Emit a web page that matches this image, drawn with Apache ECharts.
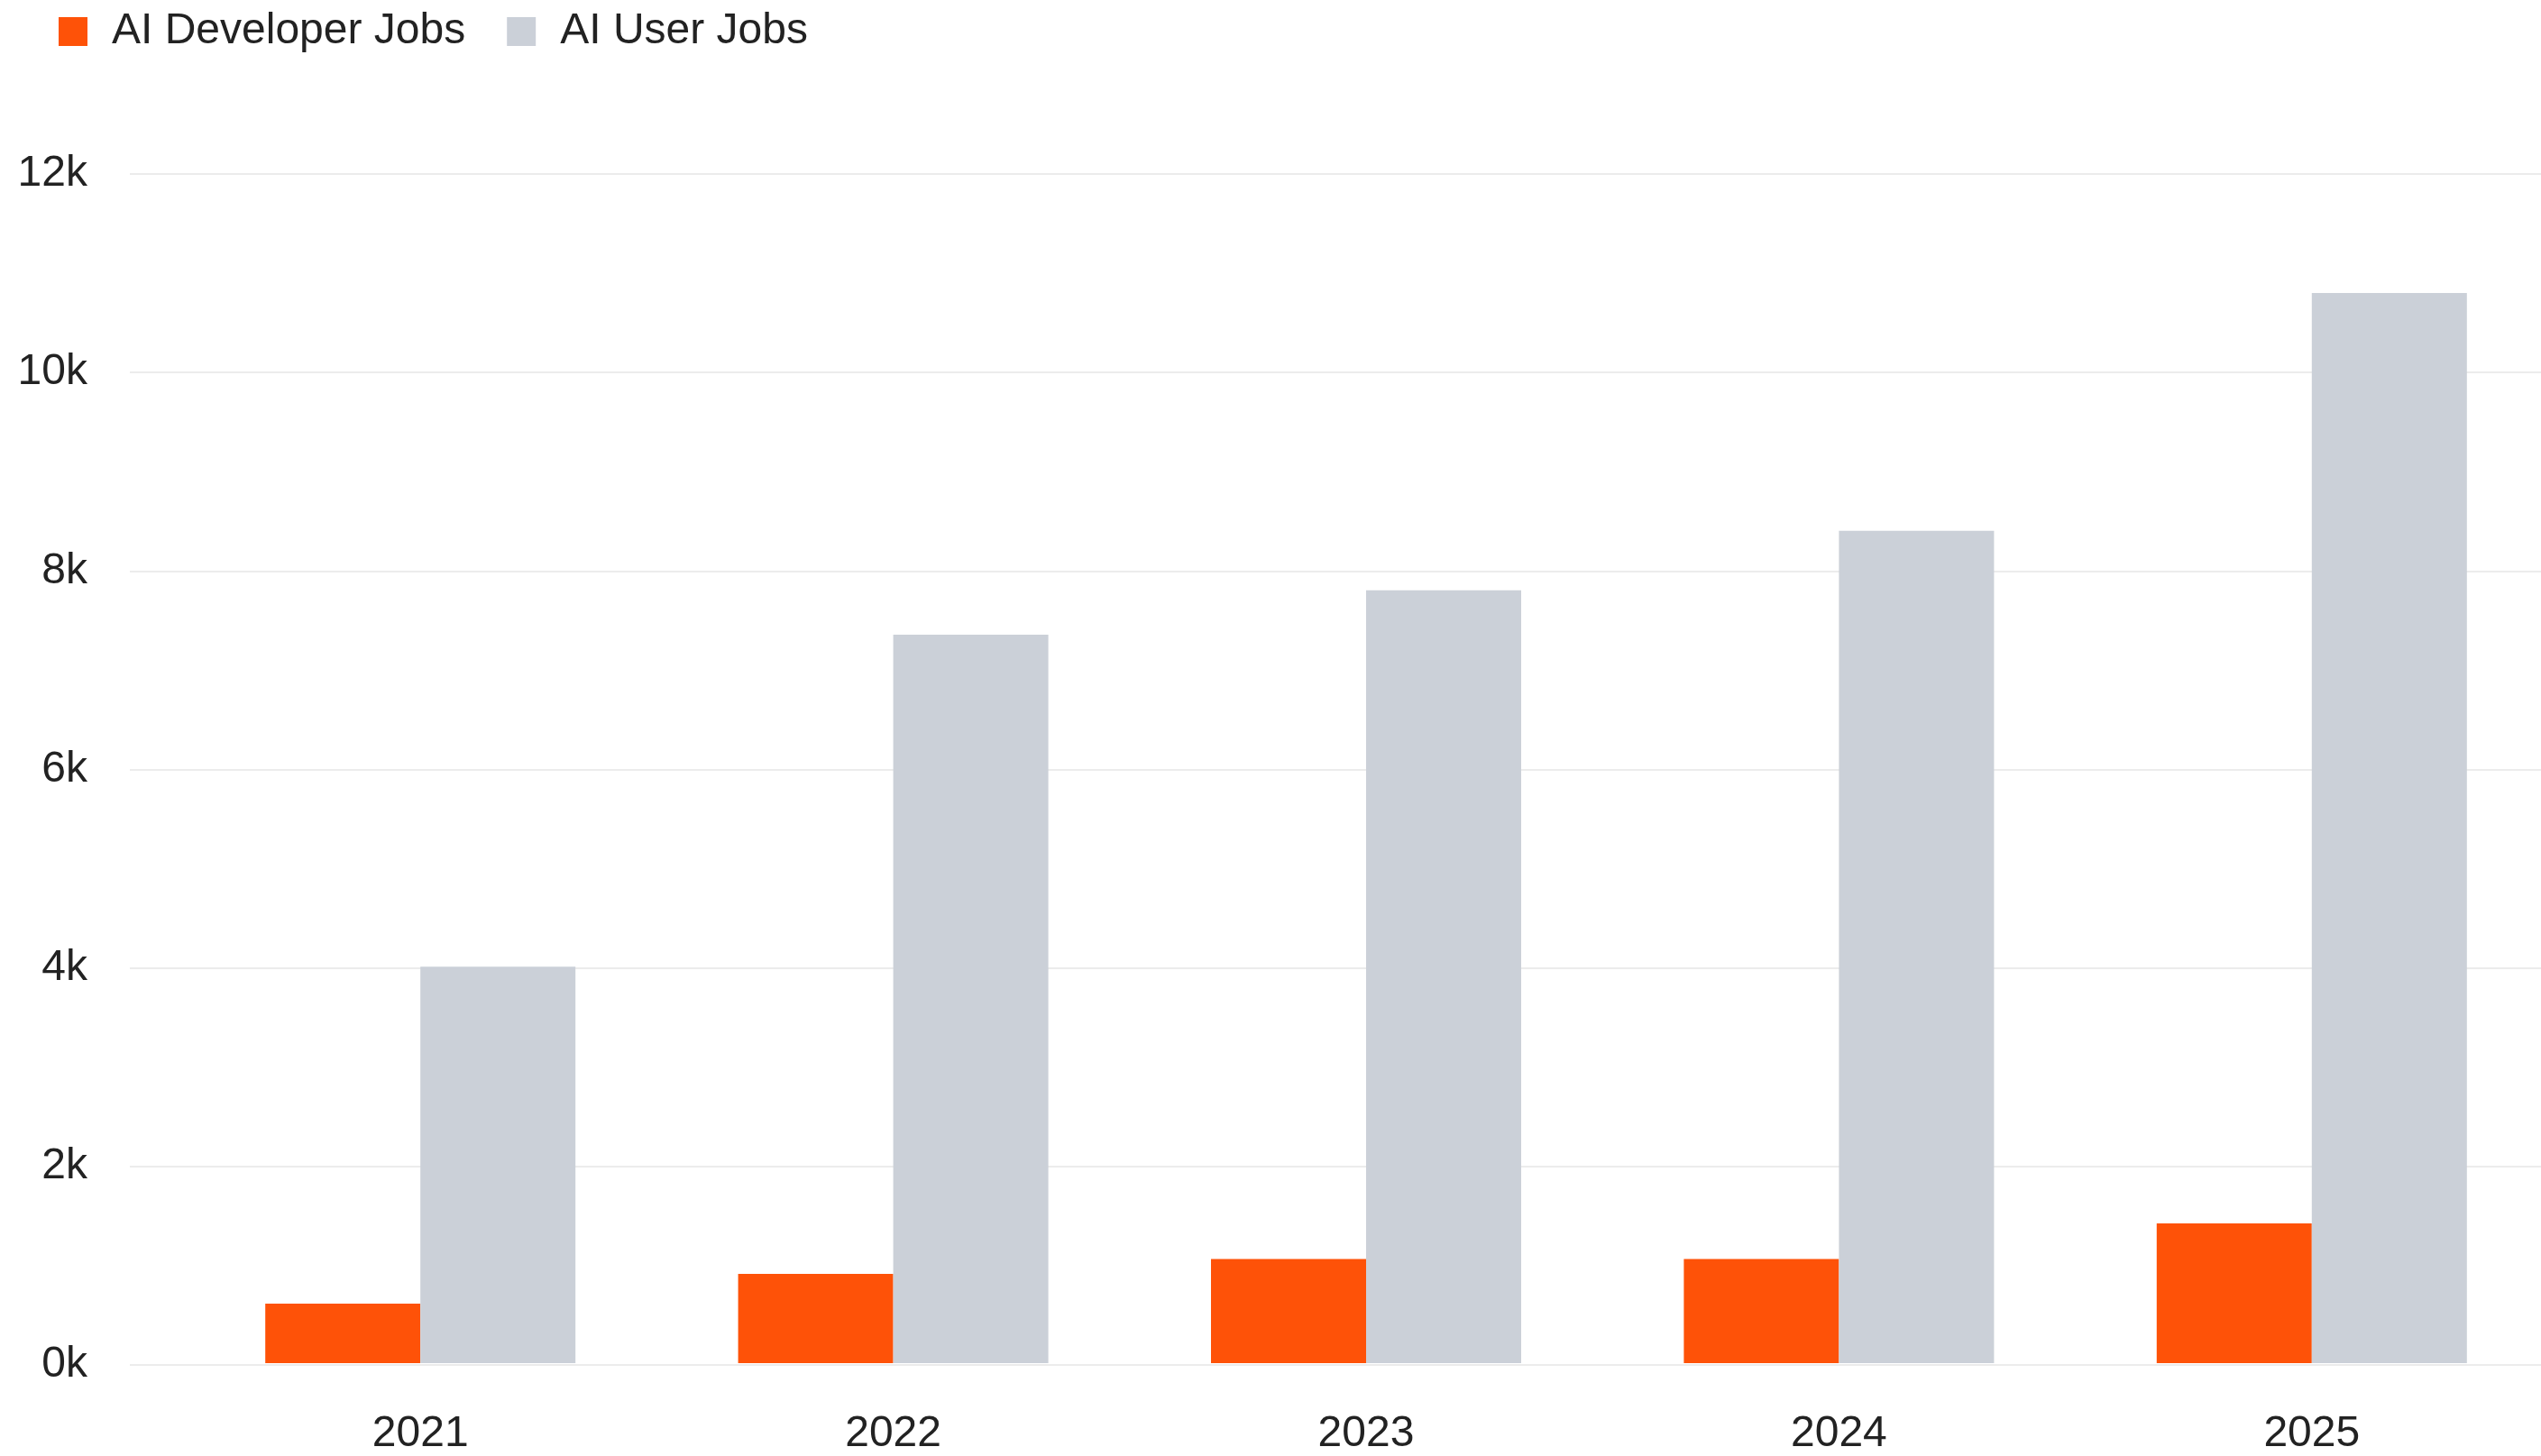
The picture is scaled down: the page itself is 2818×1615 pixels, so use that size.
<!DOCTYPE html>
<html>
<head>
<meta charset="utf-8">
<style>
  html, body { margin: 0; padding: 0; background: #ffffff; overflow: hidden; }
  #chart { width: 2840px; height: 1615px; }
</style>
<script src="https://cdn.jsdelivr.net/npm/echarts@6/dist/echarts.min.js"></script>
</head>
<body>
<div id="chart"></div>
<script>
const years = ['2021', '2022', '2023', '2024', '2025'];
const developerJobs = [600, 900, 1050, 1050, 1410];
const userJobs = [4000, 7350, 7800, 8400, 10800];
const seriesNames = ['AI Developer Jobs', 'AI User Jobs'];
const yMin = 0, yMax = 12000, yStep = 2000;

const FONT = '"Liberation Sans", Arial, Helvetica, sans-serif';
const chart = echarts.init(document.getElementById('chart'), null, { renderer: 'canvas' });

chart.setOption({
  animation: false,
  backgroundColor: '#ffffff',
  textStyle: { fontFamily: FONT },
  legend: {
    left: 60,
    top: 6,
    itemWidth: 32,
    itemHeight: 32,
    itemGap: 46,
    icon: 'rect',
    data: seriesNames,
    textStyle: { fontSize: 48, color: '#222222', fontFamily: FONT, padding: [0, 0, 0, 22] }
  },
  grid: [
    { left: 144, right: 0, top: 193, bottom: 101, containLabel: false },
    { left: 204, width: 2622, top: 193, bottom: 101, containLabel: false }
  ],
  xAxis: [
    { gridIndex: 0, type: 'category', data: years, show: false },
    {
      gridIndex: 1, type: 'category', data: years,
      axisLine: { show: false }, axisTick: { show: false },
      axisLabel: { fontSize: 48, color: '#222222', fontFamily: FONT, margin: 55 }
    }
  ],
  yAxis: [
    {
      gridIndex: 0, type: 'value', min: yMin, max: yMax, interval: yStep,
      axisLine: { show: false }, axisTick: { show: false },
      axisLabel: {
        fontSize: 48, color: '#222222', fontFamily: FONT, margin: 47,
        formatter: v => (v / 1000) + 'k'
      },
      splitLine: { show: true, lineStyle: { color: '#ececec', width: 2 } }
    },
    {
      gridIndex: 1, type: 'value', min: yMin, max: yMax, interval: yStep,
      show: false, splitLine: { show: false }
    }
  ],
  series: [
    {
      name: seriesNames[0], type: 'bar', xAxisIndex: 1, yAxisIndex: 1,
      data: developerJobs, barGap: '0%', barCategoryGap: '34.4%',
      itemStyle: { color: '#FE5208' }
    },
    {
      name: seriesNames[1], type: 'bar', xAxisIndex: 1, yAxisIndex: 1,
      data: userJobs, barGap: '0%', barCategoryGap: '34.4%',
      itemStyle: { color: '#CBD0D8' }
    }
  ]
});
</script>
</body>
</html>
